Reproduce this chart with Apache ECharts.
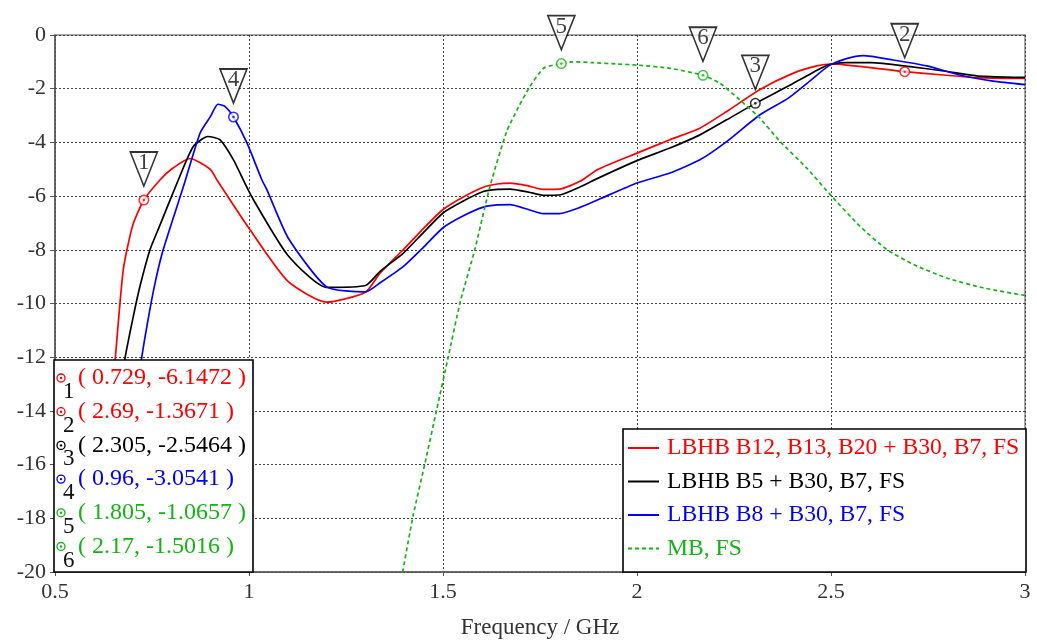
<!DOCTYPE html>
<html>
<head>
<meta charset="utf-8">
<title>LBHB / MB transmission</title>
<script src="https://cdn.jsdelivr.net/npm/echarts@6/dist/echarts.min.js"></script>
<style>
  html, body { margin: 0; padding: 0; background: #fff; }
  #chart { width: 1037px; height: 641px; }
</style>
</head>
<body>
<div id="chart"></div>
<script>
// Trace names and colours
const traceNames = [
  'LBHB B12, B13, B20 + B30, B7, FS',
  'LBHB B5 + B30, B7, FS',
  'LBHB B8 + B30, B7, FS',
  'MB, FS'
];
const traceColors = ['#ff0000', '#000000', '#0000ff', '#14b414'];

// [frequency GHz, level dB]
const traceB12 = [
  [0.605, -20], [0.655, -12.1], [0.676, -8.74], [0.70, -7.1], [0.729, -6.1472],
  [0.771, -5.39], [0.80, -5.0], [0.848, -4.6], [0.90, -5.0], [0.917, -5.39],
  [1.0, -7.2], [1.1, -9.17], [1.2, -9.95], [1.3, -9.58], [1.338, -8.86],
  [1.398, -7.99], [1.45, -7.2], [1.5, -6.5], [1.55, -6.05], [1.604, -5.67],
  [1.64, -5.55], [1.673, -5.52], [1.72, -5.62], [1.758, -5.75], [1.80, -5.74],
  [1.853, -5.45], [1.90, -5.0], [2.0, -4.4], [2.085, -3.9], [2.162, -3.47],
  [2.231, -2.85], [2.317, -2.03], [2.403, -1.42], [2.463, -1.15], [2.502, -1.08],
  [2.54, -1.12], [2.618, -1.24], [2.69, -1.3671], [2.79, -1.49], [2.876, -1.59],
  [2.953, -1.62], [3.0, -1.62]
];
const traceB5 = [
  [0.60, -20], [0.68, -12.08], [0.702, -10.47], [0.719, -9.36], [0.745, -7.99],
  [0.77, -7.1], [0.818, -5.39], [0.856, -4.16], [0.894, -3.78], [0.925, -3.9],
  [0.96, -4.65], [0.985, -5.39], [1.01, -6.1], [1.1, -8.2], [1.2, -9.4],
  [1.3, -9.33], [1.338, -8.8], [1.398, -8.12], [1.45, -7.35], [1.5, -6.63],
  [1.55, -6.2], [1.604, -5.83], [1.64, -5.75], [1.673, -5.74], [1.72, -5.85],
  [1.758, -5.97], [1.80, -5.96], [1.853, -5.66], [1.90, -5.33], [2.0, -4.68],
  [2.085, -4.21], [2.162, -3.72], [2.231, -3.16], [2.305, -2.5464], [2.39, -1.9],
  [2.449, -1.43], [2.49, -1.13], [2.502, -1.08], [2.54, -1.03], [2.604, -1.03],
  [2.704, -1.18], [2.79, -1.34], [2.876, -1.52], [2.953, -1.57], [3.0, -1.58]
];
const traceB8 = [
  [0.66, -20], [0.723, -12.08], [0.74, -10.59], [0.758, -9.23], [0.779, -7.99],
  [0.832, -5.6], [0.874, -3.65], [0.90, -3.05], [0.92, -2.58], [0.938, -2.66],
  [0.96, -3.0541], [0.995, -4.03], [1.033, -5.39], [1.046, -5.76], [1.101, -7.56],
  [1.2, -9.38], [1.3, -9.57], [1.338, -9.23], [1.398, -8.62], [1.45, -7.9],
  [1.5, -7.18], [1.55, -6.75], [1.604, -6.41], [1.64, -6.33], [1.673, -6.32],
  [1.72, -6.5], [1.758, -6.65], [1.80, -6.65], [1.853, -6.42], [1.905, -6.1],
  [2.0, -5.51], [2.085, -5.14], [2.162, -4.65], [2.231, -3.97], [2.317, -2.97],
  [2.39, -2.35], [2.449, -1.67], [2.494, -1.15], [2.54, -0.88], [2.583, -0.77],
  [2.66, -0.93], [2.747, -1.15], [2.832, -1.49], [2.918, -1.72], [3.0, -1.85]
];
const traceMB = [
  [1.396, -20], [1.423, -17.9], [1.454, -15.92], [1.484, -13.94], [1.514, -11.96],
  [1.544, -9.97], [1.582, -7.99], [1.621, -5.64], [1.664, -3.6], [1.694, -2.7],
  [1.724, -1.92], [1.76, -1.23], [1.805, -1.0657], [1.834, -1.0], [1.887, -1.03],
  [1.95, -1.08], [2.0, -1.12], [2.085, -1.24], [2.17, -1.5016], [2.214, -1.8],
  [2.265, -2.42], [2.313, -3.04], [2.369, -3.97], [2.437, -4.95], [2.502, -6.01],
  [2.575, -7.13], [2.644, -7.99], [2.713, -8.55], [2.798, -9.05], [2.893, -9.42],
  [3.0, -9.7]
];
const traces = [traceB12, traceB5, traceB8, traceMB];

// Markers: id, frequency, level, trace index
const markerIds = ['1', '2', '3', '4', '5', '6'];
const markerFreq = [0.729, 2.69, 2.305, 0.96, 1.805, 2.17];
const markerLevel = [-6.1472, -1.3671, -2.5464, -3.0541, -1.0657, -1.5016];
const markerTrace = [0, 0, 1, 2, 3, 3];

// Axis ranges
const xRange = [0.5, 3, 0.5];
const yRange = [-20, 0, 2];
const xTitle = 'Frequency / GHz';

const FONT = '"Liberation Serif", "Times New Roman", serif';

const chart = echarts.init(document.getElementById('chart'), null, { renderer: 'canvas' });

const lineSeries = traces.map((d, i) => ({
  type: 'line',
  name: traceNames[i],
  data: d,
  symbol: 'none',
  showSymbol: false,
  smooth: 0.2,
  clip: true,
  z: 3,
  itemStyle: { color: traceColors[i] },
  lineStyle: { color: traceColors[i], width: 1.7, type: i === 3 ? [4, 3] : 'solid' },
  emphasis: { disabled: true }
}));

const markerPoints = markerFreq.map((f, i) => [f, markerLevel[i]]);

const ringSeries = {
  type: 'scatter',
  name: 'marker-ring',
  silent: true,
  clip: false,
  z: 6,
  symbol: 'circle',
  symbolSize: 9.5,
  data: markerPoints.map((p, i) => ({
    value: p,
    itemStyle: { color: '#fff', borderColor: traceColors[markerTrace[i]], borderWidth: 1.5 }
  }))
};
const dotSeries = {
  type: 'scatter',
  name: 'marker-dot',
  silent: true,
  clip: false,
  z: 7,
  symbol: 'circle',
  symbolSize: 2.6,
  data: markerPoints.map((p, i) => ({
    value: p,
    itemStyle: { color: traceColors[markerTrace[i]] }
  }))
};
const flagSeries = {
  type: 'scatter',
  name: 'marker-flag',
  silent: true,
  clip: false,
  z: 8,
  symbol: 'path://M0,0 L27,0 L13.5,34 Z',
  symbolSize: [27, 34],
  symbolKeepAspect: false,
  symbolOffset: [0, -31],
  itemStyle: { color: '#fff', borderColor: '#000', borderWidth: 1.7 },
  label: {
    show: true,
    position: 'inside',
    offset: [0, -6],
    formatter: (p) => markerIds[p.dataIndex],
    fontFamily: FONT,
    fontSize: 23,
    color: '#111'
  },
  data: markerPoints
};

// Marker readout table (lower left)
const tableBox = { x: 54, y: 360, w: 199, h: 212 };
const rowTop = 378;
const rowStep = 33.7;
const tableGraphics = [{
  type: 'rect',
  z: 100,
  silent: true,
  shape: { x: tableBox.x, y: tableBox.y, width: tableBox.w, height: tableBox.h },
  style: { fill: '#fff', stroke: '#000', lineWidth: 1.6 }
}];
markerIds.forEach((id, i) => {
  const cy = rowTop + i * rowStep;
  const col = traceColors[markerTrace[i]];
  tableGraphics.push(
    { type: 'circle', z: 101, silent: true, shape: { cx: 61, cy: cy, r: 4 },
      style: { fill: '#fff', stroke: col, lineWidth: 1.3 } },
    { type: 'circle', z: 102, silent: true, shape: { cx: 61, cy: cy, r: 1.2 },
      style: { fill: col } },
    { type: 'text', z: 102, silent: true, x: 63, y: cy + 14,
      style: { text: id, fill: '#111', font: '23px ' + FONT, align: 'left', verticalAlign: 'middle' } },
    { type: 'text', z: 102, silent: true, x: 78, y: cy,
      style: { text: '( ' + markerFreq[i] + ', ' + markerLevel[i] + ' )', fill: col,
               font: '24px ' + FONT, align: 'left', verticalAlign: 'middle' } }
  );
});

// Legend frame (lower right)
const legendFrame = {
  type: 'rect',
  z: 50,
  silent: true,
  shape: { x: 623, y: 429, width: 403, height: 143 },
  style: { fill: '#fff', stroke: '#000', lineWidth: 1.6 }
};

chart.setOption({
  animation: false,
  backgroundColor: '#fff',
  textStyle: { fontFamily: FONT },
  grid: {
    left: 55, right: 12, top: 35, bottom: 69,
    show: true, borderColor: '#8a8a8a', borderWidth: 1.5,
    containLabel: false, outerBoundsMode: 'none'
  },
  legend: {
    z: 60,
    orient: 'vertical',
    left: 627,
    top: 436,
    padding: 0,
    itemWidth: 31,
    itemHeight: 14,
    itemGap: 9.5,
    selectedMode: false,
    itemStyle: { color: 'rgba(0,0,0,0)', borderColor: 'rgba(0,0,0,0)', borderWidth: 0, opacity: 0 },
    textStyle: { fontFamily: FONT, fontSize: 23.6, lineHeight: 24, padding: [0, 0, 0, 3] },
    data: traceNames.map((n, i) => ({ name: n, textStyle: { color: traceColors[i] } }))
  },
  xAxis: {
    type: 'value',
    min: xRange[0], max: xRange[1], interval: xRange[2],
    name: xTitle,
    nameLocation: 'middle',
    nameGap: 44,
    nameTextStyle: { fontFamily: FONT, fontSize: 23, color: '#333' },
    axisLine: { show: true, onZero: false, lineStyle: { color: '#555', width: 1.5 } },
    axisTick: { show: true, length: 4, lineStyle: { color: '#555' } },
    axisLabel: { fontFamily: FONT, fontSize: 22, color: '#333', margin: 9 },
    splitLine: { show: true, lineStyle: { color: '#444', width: 1, type: [2, 2] } }
  },
  yAxis: {
    type: 'value',
    min: yRange[0], max: yRange[1], interval: yRange[2],
    axisLine: { show: true, onZero: false, lineStyle: { color: '#555', width: 1.5 } },
    axisTick: { show: true, length: 5, lineStyle: { color: '#555' } },
    axisLabel: { fontFamily: FONT, fontSize: 22, color: '#333', margin: 9 },
    splitLine: { show: true, lineStyle: { color: '#444', width: 1, type: [2, 2] } }
  },
  series: lineSeries.concat([ringSeries, dotSeries, flagSeries]),
  graphic: { elements: [legendFrame].concat(tableGraphics) }
});
</script>
</body>
</html>
